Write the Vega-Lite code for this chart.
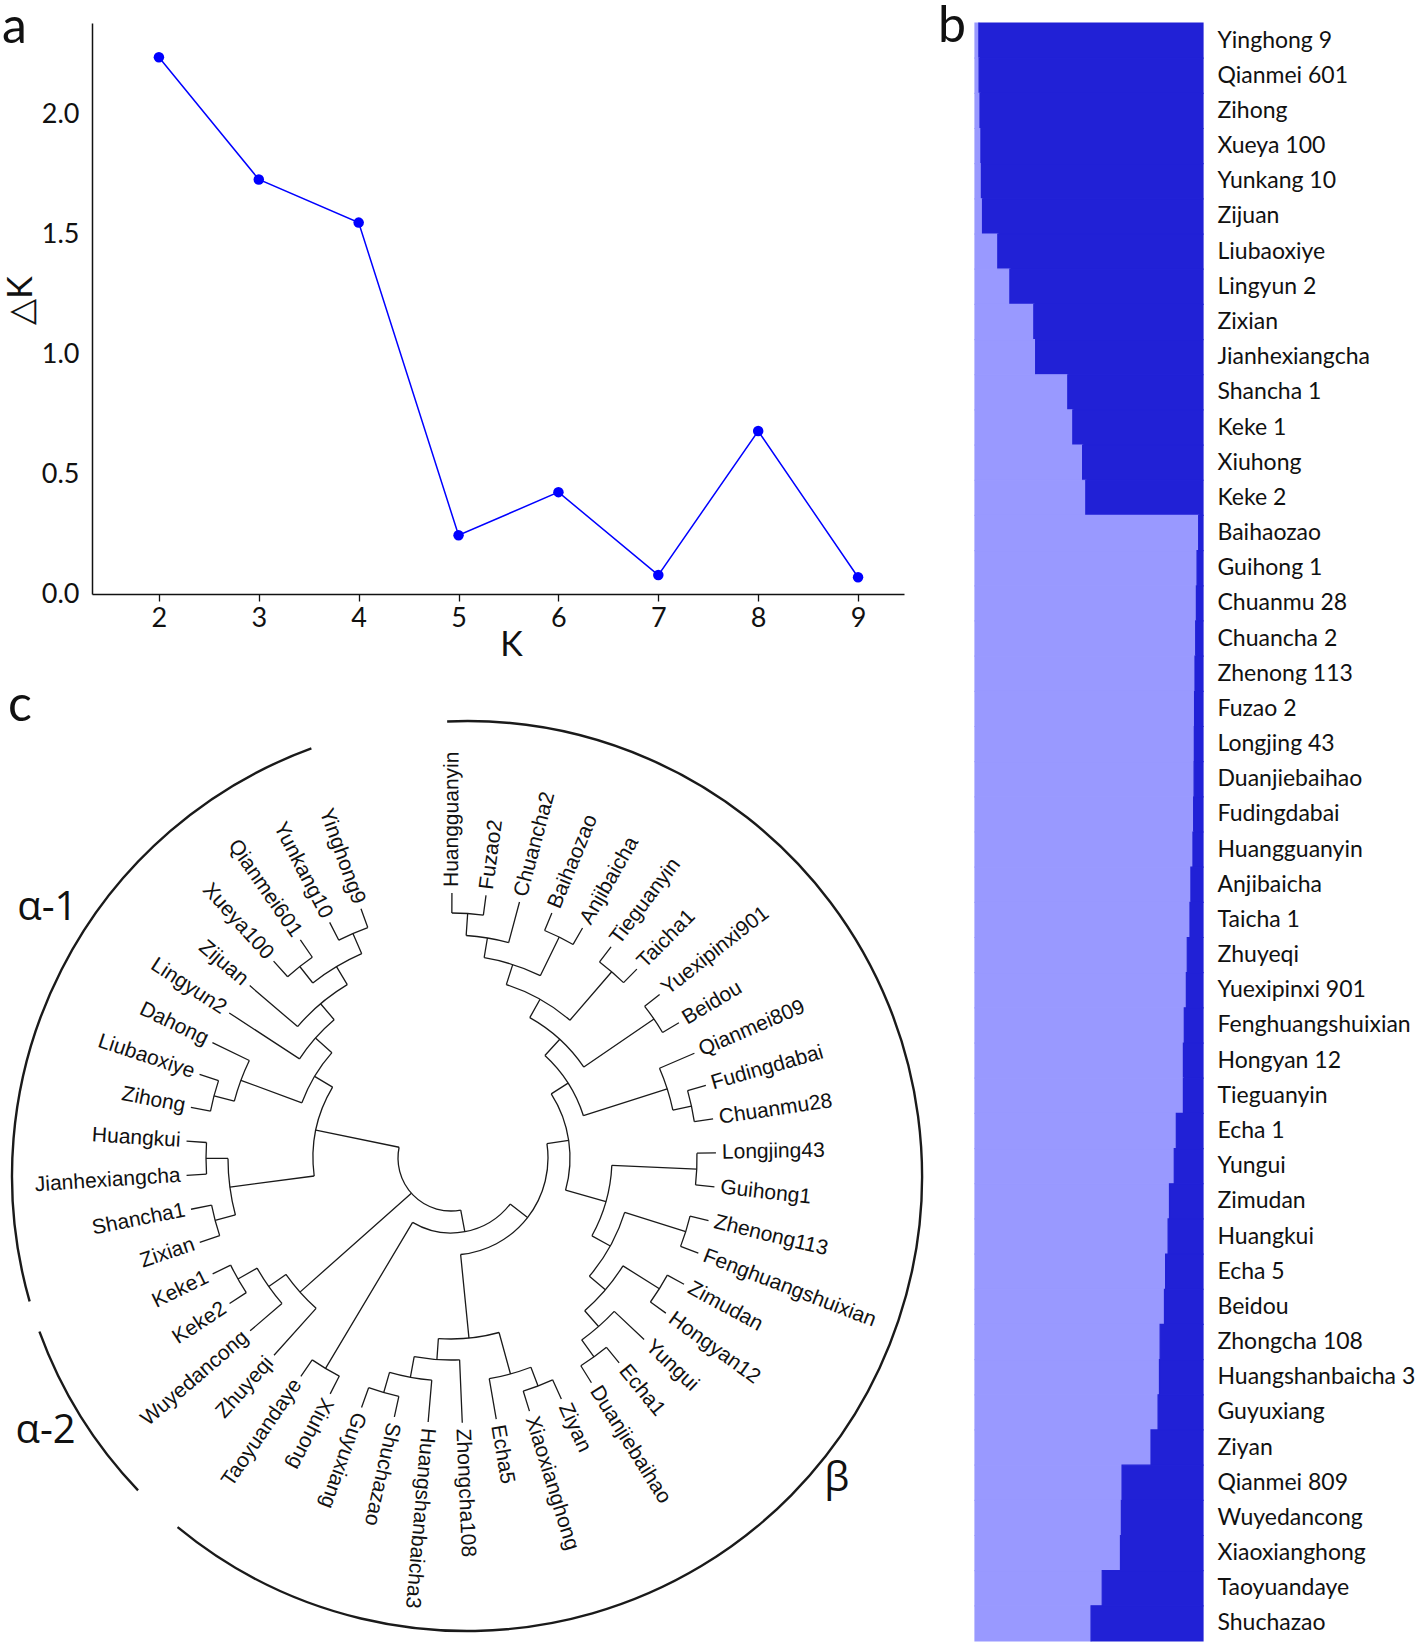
{
  "$schema": "https://vega.github.io/schema/vega-lite/v6.json",
  "background": "white",
  "padding": {"left": 2, "top": 2, "right": 0, "bottom": 0},
  "bounds": "full",
  "spacing": 11,
  "config": {
    "view": {"stroke": null},
    "axis": {"labelFont": "Lato", "titleFont": "Lato", "labelColor": "#111", "titleColor": "#111", "domainColor": "#111", "tickColor": "#111", "grid": false, "titleFontWeight": "normal"},
    "title": {"font": "Lato", "fontWeight": "normal", "color": "#111"}
  },
  "datasets": {
    "deltak": [
      {"K": 2, "dK": 2.24}, {"K": 3, "dK": 1.73}, {"K": 4, "dK": 1.55}, {"K": 5, "dK": 0.245},
      {"K": 6, "dK": 0.425}, {"K": 7, "dK": 0.079}, {"K": 8, "dK": 0.68}, {"K": 9, "dK": 0.07}
    ],
    "structure": [
      {"sample": "Yinghong 9", "cluster": "1", "v": 0.017}, {"sample": "Yinghong 9", "cluster": "2", "v": 0.983},
      {"sample": "Qianmei 601", "cluster": "1", "v": 0.018}, {"sample": "Qianmei 601", "cluster": "2", "v": 0.982},
      {"sample": "Zihong", "cluster": "1", "v": 0.022}, {"sample": "Zihong", "cluster": "2", "v": 0.978},
      {"sample": "Xueya 100", "cluster": "1", "v": 0.026}, {"sample": "Xueya 100", "cluster": "2", "v": 0.974},
      {"sample": "Yunkang 10", "cluster": "1", "v": 0.028}, {"sample": "Yunkang 10", "cluster": "2", "v": 0.972},
      {"sample": "Zijuan", "cluster": "1", "v": 0.033}, {"sample": "Zijuan", "cluster": "2", "v": 0.967},
      {"sample": "Liubaoxiye", "cluster": "1", "v": 0.10}, {"sample": "Liubaoxiye", "cluster": "2", "v": 0.90},
      {"sample": "Lingyun 2", "cluster": "1", "v": 0.153}, {"sample": "Lingyun 2", "cluster": "2", "v": 0.847},
      {"sample": "Zixian", "cluster": "1", "v": 0.258}, {"sample": "Zixian", "cluster": "2", "v": 0.742},
      {"sample": "Jianhexiangcha", "cluster": "1", "v": 0.266}, {"sample": "Jianhexiangcha", "cluster": "2", "v": 0.734},
      {"sample": "Shancha 1", "cluster": "1", "v": 0.407}, {"sample": "Shancha 1", "cluster": "2", "v": 0.593},
      {"sample": "Keke 1", "cluster": "1", "v": 0.429}, {"sample": "Keke 1", "cluster": "2", "v": 0.571},
      {"sample": "Xiuhong", "cluster": "1", "v": 0.472}, {"sample": "Xiuhong", "cluster": "2", "v": 0.528},
      {"sample": "Keke 2", "cluster": "1", "v": 0.486}, {"sample": "Keke 2", "cluster": "2", "v": 0.514},
      {"sample": "Baihaozao", "cluster": "1", "v": 0.981}, {"sample": "Baihaozao", "cluster": "2", "v": 0.019},
      {"sample": "Guihong 1", "cluster": "1", "v": 0.974}, {"sample": "Guihong 1", "cluster": "2", "v": 0.026},
      {"sample": "Chuanmu 28", "cluster": "1", "v": 0.971}, {"sample": "Chuanmu 28", "cluster": "2", "v": 0.029},
      {"sample": "Chuancha 2", "cluster": "1", "v": 0.968}, {"sample": "Chuancha 2", "cluster": "2", "v": 0.032},
      {"sample": "Zhenong 113", "cluster": "1", "v": 0.965}, {"sample": "Zhenong 113", "cluster": "2", "v": 0.035},
      {"sample": "Fuzao 2", "cluster": "1", "v": 0.963}, {"sample": "Fuzao 2", "cluster": "2", "v": 0.037},
      {"sample": "Longjing 43", "cluster": "1", "v": 0.962}, {"sample": "Longjing 43", "cluster": "2", "v": 0.038},
      {"sample": "Duanjiebaihao", "cluster": "1", "v": 0.961}, {"sample": "Duanjiebaihao", "cluster": "2", "v": 0.039},
      {"sample": "Fudingdabai", "cluster": "1", "v": 0.959}, {"sample": "Fudingdabai", "cluster": "2", "v": 0.041},
      {"sample": "Huangguanyin", "cluster": "1", "v": 0.956}, {"sample": "Huangguanyin", "cluster": "2", "v": 0.044},
      {"sample": "Anjibaicha", "cluster": "1", "v": 0.947}, {"sample": "Anjibaicha", "cluster": "2", "v": 0.053},
      {"sample": "Taicha 1", "cluster": "1", "v": 0.943}, {"sample": "Taicha 1", "cluster": "2", "v": 0.057},
      {"sample": "Zhuyeqi", "cluster": "1", "v": 0.931}, {"sample": "Zhuyeqi", "cluster": "2", "v": 0.069},
      {"sample": "Yuexipinxi 901", "cluster": "1", "v": 0.927}, {"sample": "Yuexipinxi 901", "cluster": "2", "v": 0.073},
      {"sample": "Fenghuangshuixian", "cluster": "1", "v": 0.918}, {"sample": "Fenghuangshuixian", "cluster": "2", "v": 0.082},
      {"sample": "Hongyan 12", "cluster": "1", "v": 0.914}, {"sample": "Hongyan 12", "cluster": "2", "v": 0.086},
      {"sample": "Tieguanyin", "cluster": "1", "v": 0.914}, {"sample": "Tieguanyin", "cluster": "2", "v": 0.086},
      {"sample": "Echa 1", "cluster": "1", "v": 0.883}, {"sample": "Echa 1", "cluster": "2", "v": 0.117},
      {"sample": "Yungui", "cluster": "1", "v": 0.874}, {"sample": "Yungui", "cluster": "2", "v": 0.126},
      {"sample": "Zimudan", "cluster": "1", "v": 0.853}, {"sample": "Zimudan", "cluster": "2", "v": 0.147},
      {"sample": "Huangkui", "cluster": "1", "v": 0.847}, {"sample": "Huangkui", "cluster": "2", "v": 0.153},
      {"sample": "Echa 5", "cluster": "1", "v": 0.836}, {"sample": "Echa 5", "cluster": "2", "v": 0.164},
      {"sample": "Beidou", "cluster": "1", "v": 0.831}, {"sample": "Beidou", "cluster": "2", "v": 0.169},
      {"sample": "Zhongcha 108", "cluster": "1", "v": 0.812}, {"sample": "Zhongcha 108", "cluster": "2", "v": 0.188},
      {"sample": "Huangshanbaicha 3", "cluster": "1", "v": 0.809}, {"sample": "Huangshanbaicha 3", "cluster": "2", "v": 0.191},
      {"sample": "Guyuxiang", "cluster": "1", "v": 0.803}, {"sample": "Guyuxiang", "cluster": "2", "v": 0.197},
      {"sample": "Ziyan", "cluster": "1", "v": 0.772}, {"sample": "Ziyan", "cluster": "2", "v": 0.228},
      {"sample": "Qianmei 809", "cluster": "1", "v": 0.645}, {"sample": "Qianmei 809", "cluster": "2", "v": 0.355},
      {"sample": "Wuyedancong", "cluster": "1", "v": 0.642}, {"sample": "Wuyedancong", "cluster": "2", "v": 0.358},
      {"sample": "Xiaoxianghong", "cluster": "1", "v": 0.638}, {"sample": "Xiaoxianghong", "cluster": "2", "v": 0.362},
      {"sample": "Taoyuandaye", "cluster": "1", "v": 0.558}, {"sample": "Taoyuandaye", "cluster": "2", "v": 0.442},
      {"sample": "Shuchazao", "cluster": "1", "v": 0.509}, {"sample": "Shuchazao", "cluster": "2", "v": 0.491}
    ],
    "leaves": [
      {"name": "Huangguanyin", "t": 0.2, "rp": 245, "r": 265}, {"name": "Fuzao2", "t": 7.59, "rp": 245, "r": 265},
      {"name": "Chuancha2", "t": 14.98, "rp": 223, "r": 265}, {"name": "Baihaozao", "t": 22.37, "rp": 246, "r": 265},
      {"name": "Anjibaicha", "t": 29.76, "rp": 246, "r": 265}, {"name": "Tieguanyin", "t": 37.15, "rp": 246, "r": 265},
      {"name": "Taicha1", "t": 44.54, "rp": 246, "r": 265}, {"name": "Yuexipinxi901", "t": 51.93, "rp": 246, "r": 265},
      {"name": "Beidou", "t": 59.32, "rp": 246, "r": 265}, {"name": "Qianmei809", "t": 66.71, "rp": 227, "r": 265},
      {"name": "Fudingdabai", "t": 74.1, "rp": 246, "r": 265}, {"name": "Chuanmu28", "t": 81.49, "rp": 246, "r": 265},
      {"name": "Longjing43", "t": 88.88, "rp": 246, "r": 265}, {"name": "Guihong1", "t": 96.27, "rp": 246, "r": 265},
      {"name": "Zhenong113", "t": 103.66, "rp": 246, "r": 265}, {"name": "Fenghuangshuixian", "t": 111.05, "rp": 246, "r": 265},
      {"name": "Zimudan", "t": 118.44, "rp": 246, "r": 265}, {"name": "Hongyan12", "t": 125.83, "rp": 246, "r": 265},
      {"name": "Yungui", "t": 133.22, "rp": 224, "r": 265}, {"name": "Echa1", "t": 140.61, "rp": 245, "r": 265},
      {"name": "Duanjiebaihao", "t": 148.0, "rp": 245, "r": 265}, {"name": "Ziyan", "t": 155.39, "rp": 244, "r": 265},
      {"name": "Xiaoxianghong", "t": 162.78, "rp": 244, "r": 265}, {"name": "Echa5", "t": 170.17, "rp": 224, "r": 265},
      {"name": "Zhongcha108", "t": 177.56, "rp": 202, "r": 265}, {"name": "Huangshanbaicha3", "t": 184.95, "rp": 223, "r": 265},
      {"name": "Shuchazao", "t": 192.34, "rp": 244, "r": 265}, {"name": "Guyuxiang", "t": 199.73, "rp": 244, "r": 265},
      {"name": "Xiuhong", "t": 207.12, "rp": 245, "r": 265}, {"name": "Taoyuandaye", "t": 214.51, "rp": 245, "r": 265},
      {"name": "Zhuyeqi", "t": 221.9, "rp": 202, "r": 265}, {"name": "Wuyedancong", "t": 229.29, "rp": 223, "r": 265},
      {"name": "Keke2", "t": 236.68, "rp": 245, "r": 265}, {"name": "Keke1", "t": 244.07, "rp": 245, "r": 265},
      {"name": "Zixian", "t": 251.46, "rp": 244, "r": 265}, {"name": "Shancha1", "t": 258.85, "rp": 244, "r": 265},
      {"name": "Jianhexiangcha", "t": 266.24, "rp": 245, "r": 265}, {"name": "Huangkui", "t": 273.63, "rp": 245, "r": 265},
      {"name": "Zihong", "t": 281.02, "rp": 245, "r": 265}, {"name": "Liubaoxiye", "t": 288.41, "rp": 245, "r": 265},
      {"name": "Dahong", "t": 295.8, "rp": 224, "r": 265}, {"name": "Lingyun2", "t": 303.19, "rp": 181, "r": 265},
      {"name": "Zijuan", "t": 310.58, "rp": 202, "r": 265}, {"name": "Xueya100", "t": 317.97, "rp": 244, "r": 265},
      {"name": "Qianmei601", "t": 325.36, "rp": 244, "r": 265}, {"name": "Yunkang10", "t": 332.75, "rp": 245, "r": 265},
      {"name": "Yinghong9", "t": 340.14, "rp": 245, "r": 265}
    ],
    "nodes": [
      {"id": "root", "t": 225.5, "rp": 53, "r": 53, "a1": 169.4, "a2": 281.7},
      {"id": "a1", "t": 281.7, "rp": 53, "r": 138, "a1": 262.5, "a2": 300.9},
      {"id": "top1", "t": 300.9, "rp": 138, "r": 159, "a1": 290.3, "a2": 311.5},
      {"id": "l2", "t": 311.5, "rp": 159, "r": 181, "a1": 303.19, "a2": 319.8},
      {"id": "zj", "t": 319.8, "rp": 181, "r": 202, "a1": 310.58, "a2": 329.1},
      {"id": "yyqx", "t": 329.1, "rp": 202, "r": 223, "a1": 321.7, "a2": 336.4},
      {"id": "yy", "t": 336.4, "rp": 223, "r": 245, "a1": 332.75, "a2": 340.14},
      {"id": "qx", "t": 321.7, "rp": 223, "r": 244, "a1": 317.97, "a2": 325.36},
      {"id": "dlz", "t": 290.3, "rp": 159, "r": 224, "a1": 284.7, "a2": 295.8},
      {"id": "lz", "t": 284.7, "rp": 224, "r": 245, "a1": 281.02, "a2": 288.41},
      {"id": "bot1", "t": 262.5, "rp": 138, "r": 223, "a1": 255.2, "a2": 269.9},
      {"id": "hj", "t": 269.9, "rp": 223, "r": 245, "a1": 266.24, "a2": 273.63},
      {"id": "sz", "t": 255.2, "rp": 223, "r": 244, "a1": 251.46, "a2": 258.85},
      {"id": "a2", "t": 228.4, "rp": 53, "r": 202, "a1": 221.9, "a2": 234.8},
      {"id": "kw", "t": 234.8, "rp": 202, "r": 223, "a1": 229.29, "a2": 240.4},
      {"id": "k12", "t": 240.4, "rp": 223, "r": 245, "a1": 236.68, "a2": 244.07},
      {"id": "B", "t": 169.4, "rp": 53, "r": 75, "a1": 127.9, "a2": 210.8},
      {"id": "tx", "t": 210.8, "rp": 75, "r": 245, "a1": 207.12, "a2": 214.51},
      {"id": "C", "t": 127.9, "rp": 75, "r": 97, "a1": 81.5, "a2": 174.3},
      {"id": "E", "t": 81.5, "rp": 97, "r": 119, "a1": 57.4, "a2": 105.7},
      {"id": "F", "t": 57.4, "rp": 119, "r": 139, "a1": 42.5, "a2": 72.3},
      {"id": "H", "t": 42.5, "rp": 139, "r": 161, "a1": 29.3, "a2": 55.6},
      {"id": "I", "t": 29.3, "rp": 161, "r": 182, "a1": 17.7, "a2": 40.8},
      {"id": "J", "t": 17.7, "rp": 182, "r": 203, "a1": 9.4, "a2": 26.1},
      {"id": "K", "t": 9.4, "rp": 203, "r": 223, "a1": 3.9, "a2": 14.98},
      {"id": "hf", "t": 3.9, "rp": 223, "r": 245, "a1": 0.2, "a2": 7.59},
      {"id": "ba", "t": 26.1, "rp": 203, "r": 246, "a1": 22.37, "a2": 29.76},
      {"id": "tt", "t": 40.8, "rp": 182, "r": 246, "a1": 37.15, "a2": 44.54},
      {"id": "yb", "t": 55.6, "rp": 161, "r": 246, "a1": 51.93, "a2": 59.32},
      {"id": "qfc", "t": 72.3, "rp": 139, "r": 227, "a1": 66.71, "a2": 77.8},
      {"id": "fc", "t": 77.8, "rp": 227, "r": 246, "a1": 74.1, "a2": 81.49},
      {"id": "G", "t": 105.7, "rp": 119, "r": 161, "a1": 92.6, "a2": 118.9},
      {"id": "lg", "t": 92.6, "rp": 161, "r": 246, "a1": 88.88, "a2": 96.27},
      {"id": "L", "t": 118.9, "rp": 161, "r": 182, "a1": 107.4, "a2": 130.5},
      {"id": "zf", "t": 107.4, "rp": 182, "r": 246, "a1": 103.66, "a2": 111.05},
      {"id": "M", "t": 130.5, "rp": 182, "r": 203, "a1": 122.1, "a2": 138.8},
      {"id": "zh", "t": 122.1, "rp": 203, "r": 246, "a1": 118.44, "a2": 125.83},
      {"id": "N", "t": 138.8, "rp": 203, "r": 224, "a1": 133.22, "a2": 144.3},
      {"id": "O", "t": 144.3, "rp": 224, "r": 245, "a1": 140.61, "a2": 148.0},
      {"id": "P", "t": 174.3, "rp": 97, "r": 181, "a1": 164.6, "a2": 184.0},
      {"id": "Q", "t": 184.0, "rp": 181, "r": 202, "a1": 177.56, "a2": 190.5},
      {"id": "S", "t": 190.5, "rp": 202, "r": 223, "a1": 184.95, "a2": 196.0},
      {"id": "T", "t": 196.0, "rp": 223, "r": 244, "a1": 192.34, "a2": 199.73},
      {"id": "R", "t": 164.6, "rp": 181, "r": 224, "a1": 159.1, "a2": 170.17},
      {"id": "U", "t": 159.1, "rp": 224, "r": 244, "a1": 155.39, "a2": 162.78}
    ],
    "outer": [
      {"grp": "alpha-1", "t1": 254, "t2": 340, "r": 455},
      {"grp": "alpha-2", "t1": 226.3, "t2": 250, "r": 455},
      {"grp": "beta", "t1": -2.5, "t2": 219.5, "r": 455}
    ],
    "greek": [
      {"label": "α-1", "t": 301.8, "r": 475},
      {"label": "α-2", "t": 236, "r": 489},
      {"label": "β", "t": 129.8, "r": 502}
    ]
  },
  "hconcat": [
    {
      "bounds": "flush",
      "spacing": 205,
      "vconcat": [
        {
          "width": 812,
          "height": 571,
          "title": {"text": "a", "anchor": "start", "frame": "group", "offset": 0, "dx": -90, "dy": 70, "baseline": "alphabetic", "fontSize": 50},
          "data": {"name": "deltak"},
          "encoding": {
            "x": {"field": "K", "type": "quantitative", "scale": {"domain": [1.33, 9.46], "nice": false, "zero": false},
              "axis": {"values": [2, 3, 4, 5, 6, 7, 8, 9], "title": "K", "titleFontSize": 34, "titlePadding": -3, "titleX": 419, "labelFontSize": 27, "tickSize": 7, "labelPadding": 4, "domainWidth": 1.5, "tickWidth": 1.3}},
            "y": {"field": "dK", "type": "quantitative", "scale": {"domain": [0, 2.383], "nice": false},
              "axis": {"values": [0, 0.5, 1, 1.5, 2], "format": ".1f", "title": "△K", "titleFontSize": 34, "titlePadding": 3, "titleY": 277, "labelFontSize": 27, "ticks": false, "labelPadding": 13, "domainWidth": 1.5}}
          },
          "layer": [
            {"mark": {"type": "line", "color": "#0000FF", "strokeWidth": 1.5}},
            {"mark": {"type": "point", "filled": true, "color": "#0000FF", "size": 110, "opacity": 1}}
          ]
        },
        {
          "width": 718,
          "height": 718,
          "title": {"text": "c", "anchor": "start", "frame": "group", "offset": 0, "dx": -84, "dy": 55, "baseline": "alphabetic", "fontSize": 50},
          "layer": [
            {
              "data": {"name": "outer"},
              "mark": {"type": "arc", "filled": false, "color": "#1a1a1a", "strokeWidth": 2.4, "xOffset": 16, "yOffset": 18},
              "encoding": {
                "theta": {"field": "t1", "type": "quantitative", "scale": {"type": "linear", "domain": [0, 360], "range": [0, 6.283185307179586]}},
                "theta2": {"field": "t2"},
                "radius": {"field": "r", "type": "quantitative", "scale": {"type": "linear", "domain": [0, 359], "range": [0, 359]}},
                "radius2": {"field": "r"}
              }
            },
            {
              "data": {"name": "nodes"},
              "mark": {"type": "arc", "filled": false, "color": "#1a1a1a", "strokeWidth": 1.3},
              "encoding": {
                "theta": {"field": "t", "type": "quantitative", "scale": {"type": "linear", "domain": [0, 360], "range": [0, 6.283185307179586]}},
                "theta2": {"field": "t"},
                "radius": {"field": "r", "type": "quantitative", "scale": {"type": "linear", "domain": [0, 359], "range": [0, 359]}},
                "radius2": {"field": "rp"}
              }
            },
            {
              "data": {"name": "nodes"},
              "mark": {"type": "arc", "filled": false, "color": "#1a1a1a", "strokeWidth": 1.3},
              "encoding": {
                "theta": {"field": "a1", "type": "quantitative", "scale": {"type": "linear", "domain": [0, 360], "range": [0, 6.283185307179586]}},
                "theta2": {"field": "a2"},
                "radius": {"field": "r", "type": "quantitative", "scale": {"type": "linear", "domain": [0, 359], "range": [0, 359]}},
                "radius2": {"field": "r"}
              }
            },
            {
              "data": {"name": "leaves"},
              "mark": {"type": "arc", "filled": false, "color": "#1a1a1a", "strokeWidth": 1.3},
              "encoding": {
                "theta": {"field": "t", "type": "quantitative", "scale": {"type": "linear", "domain": [0, 360], "range": [0, 6.283185307179586]}},
                "theta2": {"field": "t"},
                "radius": {"field": "r", "type": "quantitative", "scale": {"type": "linear", "domain": [0, 359], "range": [0, 359]}},
                "radius2": {"field": "rp"}
              }
            },
            {
              "data": {"name": "leaves"},
              "transform": [{"filter": "datum.t < 210"}],
              "mark": {"type": "text", "align": "left", "baseline": "middle", "font": "Liberation Sans", "fontSize": 21, "color": "#111", "radius": 271, "angle": {"expr": "datum.t - 90"}},
              "encoding": {
                "theta": {"field": "t", "type": "quantitative", "scale": {"type": "linear", "domain": [0, 360], "range": [0, 6.283185307179586]}},
                "text": {"field": "name"}
              }
            },
            {
              "data": {"name": "leaves"},
              "transform": [{"filter": "datum.t >= 210"}],
              "mark": {"type": "text", "align": "right", "baseline": "middle", "font": "Liberation Sans", "fontSize": 21, "color": "#111", "radius": 271, "angle": {"expr": "datum.t + 90"}},
              "encoding": {
                "theta": {"field": "t", "type": "quantitative", "scale": {"type": "linear", "domain": [0, 360], "range": [0, 6.283185307179586]}},
                "text": {"field": "name"}
              }
            },
            {
              "data": {"name": "greek"},
              "mark": {"type": "text", "align": "center", "baseline": "middle", "font": "Open Sans", "fontSize": 40, "color": "#111"},
              "encoding": {
                "theta": {"field": "t", "type": "quantitative", "scale": {"type": "linear", "domain": [0, 360], "range": [0, 6.283185307179586]}},
                "radius": {"field": "r", "type": "quantitative", "scale": {"type": "linear", "domain": [0, 359], "range": [0, 359]}},
                "text": {"field": "label"}
              }
            }
          ]
        }
      ]
    },
    {
      "width": 228,
      "height": 1618,
      "title": {"text": "b", "anchor": "start", "frame": "group", "offset": 0, "dx": -37, "dy": 70, "baseline": "alphabetic", "fontSize": 50},
      "data": {"name": "structure"},
      "mark": {"type": "bar", "strokeWidth": 1.2},
      "encoding": {
        "y": {"field": "sample", "type": "nominal", "sort": null, "scale": {"paddingInner": 0, "paddingOuter": 0},
          "axis": {"orient": "right", "title": null, "ticks": false, "domain": false, "labelFontSize": 23, "labelPadding": 14, "labelLimit": 400, "labelColor": "#111"}},
        "x": {"field": "v", "type": "quantitative", "stack": "zero", "scale": {"domain": [0, 1], "nice": false}, "axis": null},
        "color": {"field": "cluster", "type": "nominal", "scale": {"domain": ["1", "2"], "range": ["#9999FF", "#2121D6"]}, "legend": null},
        "stroke": {"field": "cluster", "type": "nominal", "scale": {"domain": ["1", "2"], "range": ["#9999FF", "#2121D6"]}, "legend": null},
        "order": {"field": "cluster"}
      }
    }
  ]
}
